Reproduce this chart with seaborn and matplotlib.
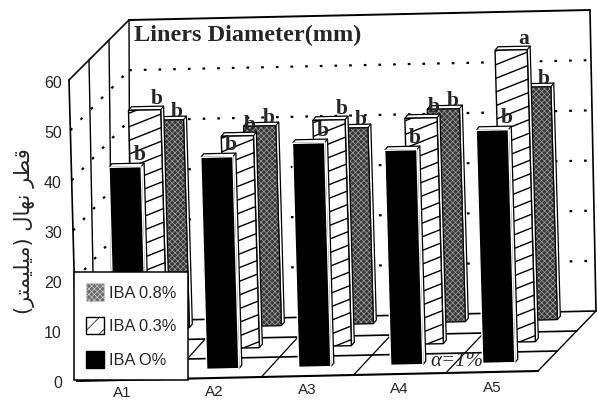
import numpy as np
import pandas as pd
import seaborn as sns
import matplotlib
matplotlib.use("Agg")
import matplotlib.pyplot as plt
from matplotlib.patches import Polygon, Patch
from matplotlib.transforms import Affine2D

categories = ["A1", "A2", "A3", "A4", "A5"]
iba_0 = [40.8, 42.4, 44.8, 43.0, 46.6]
iba_03 = [48.0, 42.4, 45.2, 45.2, 58.4]
iba_08 = [41.6, 40.0, 39.2, 42.6, 46.6]
letters_0 = ["b", "b", "b", "b", "b"]
letters_03 = ["b", "b", "b", "b", "a"]
letters_08 = ["b", "b", "b", "b", "b"]
y_ticks = [0, 10, 20, 30, 40, 50, 60]
series_names = ["IBA 0.8%", "IBA 0.3%", "IBA O%"]
title_text = "Liners Diameter(mm)"
# Persian axis title in visual order with presentation forms: قطر نهال (میلیمتر)
ylabel_text = "(\uFEAE\uFE98\uFEE4\uFBFF\uFEE0\uFBFF\uFEE3) \uFEDD\uFE8E\uFEEC\uFEE7 \uFEAE\uFEC4\uFED7"

W, H = 597, 400
sns.set_style("white")
plt.rcParams["font.family"] = ["Liberation Sans", "DejaVu Sans"]
plt.rcParams["hatch.linewidth"] = 0.5
fig = plt.figure(figsize=(W / 100, H / 100), dpi=100, facecolor="white")


def box(left, bottom_y, width, height):
    return [left / W, (H - bottom_y) / H, width / W, height / H]


# ---------- the open box: walls, floor, grid ----------
frame = fig.add_axes([0, 0, 1, 1], zorder=0)
frame.set_xlim(0, W)
frame.set_ylim(H, 0)
frame.axis("off")
FL, FR, BL, BR = np.array([77, 381.]), np.array([538, 371.]), np.array([130, 321.]), np.array([596, 311.])
TFL, TFR, TBL, TBR = np.array([69, 80.]), np.array([530, 70.]), np.array([129, 20.]), np.array([590, 10.])


def P(u, d, v):
    s = u / 5
    bottom = (1 - d) * ((1 - s) * FL + s * FR) + d * ((1 - s) * BL + s * BR)
    top = (1 - d) * ((1 - s) * TFL + s * TFR) + d * ((1 - s) * TBL + s * TBR)
    return bottom + (top - bottom) * v / 60


def seg(a, b, **kw):
    kw.setdefault("color", "black")
    kw.setdefault("lw", 1.0)
    frame.plot([a[0], b[0]], [a[1], b[1]], solid_capstyle="round", **kw)


for d in (1 / 3, 2 / 3, 1):
    seg(P(0, d, 0), P(5, d, 0), lw=1.2)
    seg(P(0, d, 0), P(0, d, 60))
seg(P(0, 0, 0), P(5, 0, 0), lw=1.5)
seg(P(5, 0, 0), P(5, 1, 0))
seg(P(0, 0, 0), P(0, 1, 0))
seg(P(0, 0, 0), P(0, 0, 60), lw=1.2)
seg(P(0, 0, 60), P(0, 1, 60), lw=1.2)
seg(P(0, 1, 60), P(5, 1, 60), lw=1.4)
seg(P(5, 1, 60), P(5, 1, 0), lw=1.2)
for u in range(1, 5):
    seg(P(u, 0, 0), P(u, 1, 0), lw=0.9)
for v in y_ticks[1:-1]:
    dots = dict(ls=(0, (1.2, 5.4)), lw=1.6)
    seg(P(0, 0, v), P(0, 1, v), **dots)
    seg(P(0, 1, v), P(5, 1, v), **dots)


# ---------- one transparent axes per depth row ----------
def sheared(ax):
    x0, y0 = ax.transData.transform((0, 45))
    a, b = 0.028, 2 / 92
    return ax.transData + Affine2D.from_values(1, b, -a, 1, a * y0, -b * x0)


def row(values, letters, left, base, z, color, kind, lx, ly):
    ax = fig.add_axes(box(left, base, 460, 300), zorder=z)
    ax.patch.set_alpha(0)
    df = pd.DataFrame({"treatment": categories, "diameter": values})
    sns.barplot(data=df, x="treatment", y="diameter", color=color, saturation=1,
                width=0.35, ax=ax, errorbar=None)
    ax.set_xlim(-0.5, 4.5)
    ax.set_ylim(0, 60)
    ax.axis("off")
    tr = sheared(ax)
    dx, dy = 3 / 92, 3.5 / 5
    for i, bar in enumerate(list(ax.patches)):
        x0, x1 = bar.get_x(), bar.get_x() + bar.get_width()
        top = bar.get_height()
        side = Polygon([(x0, top), (x0 + dx, top + dy), (x1 + dx, top + dy), (x1 + dx, dy), (x1, 0), (x1, top)],
                       closed=True, fc="white", ec="black", lw=0.9, transform=tr, zorder=1, clip_on=False)
        ax.add_patch(side)
        ax.plot([x1, x1 + dx], [top, top + dy], color="black", lw=0.8, transform=tr, zorder=1, clip_on=False)
        bar.set_transform(tr)
        bar.set_clip_on(False)
        bar.set_zorder(2)
        if kind == "hatch":
            bar.set_edgecolor("black")
            bar.set_linewidth(1.0)
            for k in np.arange(-12, top + 12, 2.7):
                line, = ax.plot([x0, x1], [k, k + 2.4], color="black", lw=1.0, transform=tr, zorder=3)
                line.set_clip_path(bar)
        elif kind == "stipple":
            bar.set_hatch("xxxxxx")
            bar.set_edgecolor("#a0a0a0")
            bar.set_linewidth(0.4)
            ax.add_patch(plt.Rectangle((x0, 0), x1 - x0, top, fc="none", ec="black", lw=0.9,
                                       transform=tr, zorder=3, clip_on=False))
        ax.text(i + lx, top + ly, letters[i], family="Liberation Serif", weight="bold", fontsize=15.5,
                ha="center", va="center", transform=tr, zorder=5, clip_on=False)
    return ax


row(iba_08, letters_08, 121, 328, 1, "#383838", "stipple", 0.10, 1.6)
row(iba_03, letters_03, 99, 350, 2, "white", "hatch", 0.14, 2.2)
row(iba_0, letters_0, 78.5, 371, 3, "black", "solid", 0.16, 2.4)

# ---------- value axis ----------
yax = fig.add_axes(box(66, 382, 1, 300), zorder=4)
yax.patch.set_alpha(0)
yax.set_ylim(0, 60)
yax.set_yticks(y_ticks)
yax.set_xticks([])
yax.tick_params(axis="y", length=0, pad=3, labelsize=11.5)
sns.despine(ax=yax, left=True, bottom=True)
yax.set_ylabel("")

# ---------- category labels, title, notes on top ----------
over = fig.add_axes([0, 0, 1, 1], zorder=6)
over.set_xlim(0, W)
over.set_ylim(H, 0)
over.axis("off")
over.patch.set_alpha(0)
for i, c in enumerate(categories):
    over.text(122 + 92.5 * i, 393 - 1.3 * i, c, ha="center", va="center", fontsize=11)
over.text(134, 35, title_text, family="Liberation Serif", weight="bold", fontsize=17.5, va="center", ha="left")
over.text(457, 361, "\u03b1=1%", family="Liberation Serif", style="italic", fontsize=15, ha="center", va="center")
over.text(25, 231, ylabel_text, family="DejaVu Sans", fontsize=15, rotation=90, ha="center", va="center")

handles = [
    Patch(facecolor="#6e6e6e", edgecolor="#c8c8c8", hatch="xxxxxx", lw=0.6),
    Patch(facecolor="white", edgecolor="black", hatch="//", lw=1),
    Patch(facecolor="black", edgecolor="black"),
]
leg = fig.legend(handles, series_names, loc="lower left", bbox_to_anchor=(74 / W, (H - 380) / H), borderaxespad=0,
                 fontsize=11.8, frameon=True, framealpha=1, fancybox=False, edgecolor="black",
                 handlelength=1.1, handleheight=1.25, labelspacing=1.0, handletextpad=0.3,
                 borderpad=0.72, facecolor="white")
leg.get_frame().set_linewidth(1.1)
leg.set_zorder(10)

fig.savefig("out.png", dpi=100, facecolor="white")
